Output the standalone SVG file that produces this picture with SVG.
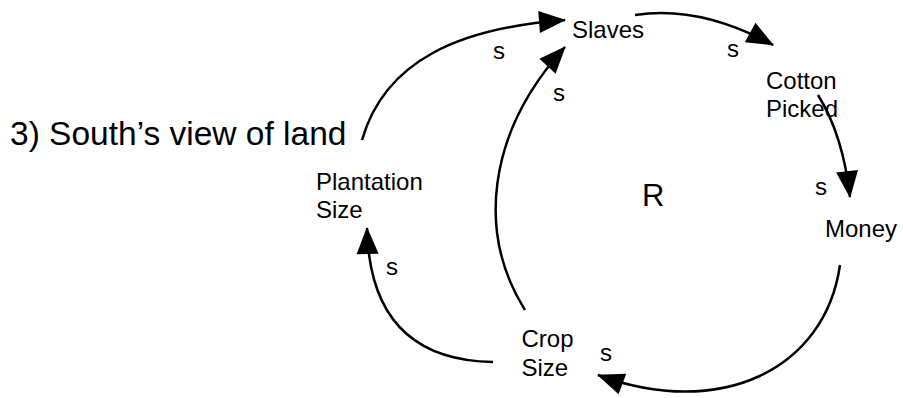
<svg xmlns="http://www.w3.org/2000/svg" width="903" height="398" viewBox="0 0 903 398">
<style>
text{font-family:"Liberation Sans",Arial,sans-serif;fill:#000}
.n{font-size:24px}
.s{font-size:24px}
.t{font-size:33.5px}
.r{font-size:31px}
.c{fill:none;stroke:#000;stroke-width:2.5;marker-end:url(#ah)}
</style>
<defs>
<marker id="ah" markerUnits="userSpaceOnUse" viewBox="0 -11 27 22" refX="26" refY="0" markerWidth="27" markerHeight="22" orient="auto" overflow="visible">
<path d="M0,-11 L27,0 L0,11 Z" fill="#000"/>
</marker>
</defs>
<rect width="903" height="398" fill="#fff"/>
<text class="t" x="10" y="145">3) South’s view of land</text>
<g id="connectors">
<path class="c" d="M362,140 C385,60 460,28 565,20"/>
<path class="c" d="M525,310 C478,235 485,135 565,47"/>
<path class="c" d="M635,15 Q700,5 773,45"/>
<path class="c" d="M818,95 Q843,135 850,197"/>
<path class="c" d="M840,265 C825,370 720,420 598,375"/>
<path class="c" d="M493,362 Q370,360 367,228"/>
</g>
<g id="labels">
<text class="s" x="493" y="59">s</text>
<text class="s" x="553" y="101">s</text>
<text class="s" x="727" y="57">s</text>
<text class="s" x="815" y="195">s</text>
<text class="s" x="386" y="275">s</text>
<text class="s" x="600" y="361">s</text>
</g>
<g id="slaves"><text class="n" x="572" y="38">Slaves</text></g>
<g id="cotton-picked"><text class="n" x="766" y="89">Cotton</text><text class="n" x="766" y="116.5">Picked</text></g>
<g id="money"><text class="n" x="825" y="237">Money</text></g>
<g id="crop-size"><text class="n" x="521.5" y="347">Crop</text><text class="n" x="521.5" y="376">Size</text></g>
<g id="plantation-size"><text class="n" x="316" y="190">Plantation</text><text class="n" x="316" y="218">Size</text></g>
<g id="loop"><text class="r" x="642" y="206">R</text></g>
</svg>
